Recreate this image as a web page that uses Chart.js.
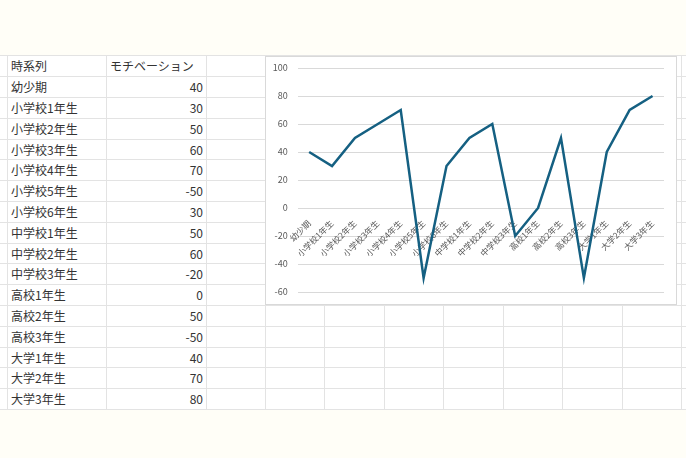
<!DOCTYPE html>
<html><head><meta charset="utf-8">
<script src="https://cdn.jsdelivr.net/npm/chart.js@4"></script>
<style>
html,body{margin:0;padding:0;}
body{width:686px;height:458px;background:#fffef7;position:relative;overflow:hidden;font-family:"Noto Sans CJK JP","Noto Sans",sans-serif;}
#sheet{position:absolute;left:0;top:55px;width:686px;height:355px;background:#fff;}
.vl{position:absolute;width:1px;background:#e3e3e3;}
.hl{position:absolute;height:1px;background:#e3e3e3;}
.cell{position:absolute;font-size:12px;color:#333;line-height:20px;height:20px;white-space:nowrap;}
#chartBox{position:absolute;left:265px;top:56px;width:410px;height:247px;border:1px solid #d9d9d9;background:#fff;}
</style></head>
<body>
<div id="sheet"></div>
<div id="chartBox"><canvas id="c" width="410" height="247"></canvas></div>
<script>
// ---- data ----
const headerLabels = ["時系列", "モチベーション"];
const categories = ["幼少期","小学校1年生","小学校2年生","小学校3年生","小学校4年生","小学校5年生","小学校6年生","中学校1年生","中学校2年生","中学校3年生","高校1年生","高校2年生","高校3年生","大学1年生","大学2年生","大学3年生"];
const motivation = [40,30,50,60,70,-50,30,50,60,-20,0,50,-50,40,70,80];
const yTickMin = -60, yTickMax = 100, yTickStep = 20;

// ---- spreadsheet grid ----
const sheet = document.getElementById('sheet');
const colX = [7.3, 106, 205.7, 264.5, 324.3, 383.7, 443.3, 502.7, 562.3, 621.7, 681];
const rowH = 20.8, rowTop = 0.3, nRows = 17;
for (const x of colX) {
  const d = document.createElement('div'); d.className = 'vl';
  d.style.left = Math.round(x) + 'px'; d.style.top = '0px'; d.style.height = '355px';
  sheet.appendChild(d);
}
for (let i = 0; i <= nRows; i++) {
  const d = document.createElement('div'); d.className = 'hl';
  d.style.left = '0px'; d.style.width = '686px'; d.style.top = Math.round(rowTop + i * rowH) + 'px';
  sheet.appendChild(d);
}
function addCell(text, row, left, right) {
  const d = document.createElement('div'); d.className = 'cell';
  d.textContent = text;
  d.style.top = Math.round(rowTop + row * rowH + 1) + 'px';
  if (right !== undefined) { d.style.right = (686 - right) + 'px'; d.style.textAlign = 'right'; }
  else d.style.left = left + 'px';
  sheet.appendChild(d);
}
addCell(headerLabels[0], 0, 11);
addCell(headerLabels[1], 0, 110);
categories.forEach((c, i) => {
  addCell(c, i + 1, 11);
  addCell(String(motivation[i]), i + 1, undefined, 203);
});

// ---- chart ----
new Chart(document.getElementById('c'), {
  type: 'line',
  data: {
    labels: categories,
    datasets: [{
      data: motivation,
      borderColor: '#156082',
      borderWidth: 2.5,
      pointRadius: 0,
      tension: 0,
      fill: false
    }]
  },
  options: {
    responsive: false,
    animation: false,
    devicePixelRatio: 1,
    plugins: { legend: { display: false }, tooltip: { enabled: false } },
    layout: { padding: { left: 0, top: 11, right: 12, bottom: 12 } },
    scales: {
      x: {
        type: 'category',
        offset: true,
        position: { y: 0 },
        grid: { display: false },
        border: { display: false },
        ticks: {
          autoSkip: false, minRotation: 45, maxRotation: 45,
          color: '#595959', padding: 2,
          font: { family: '"Noto Sans CJK JP"', size: 8.5 }
        }
      },
      y: {
        min: yTickMin, max: yTickMax,
        afterFit: s => { s.width = 31.7; },
        grid: { color: '#d9d9d9', lineWidth: 1, drawTicks: true, tickLength: 8, tickColor: 'rgba(0,0,0,0)' },
        border: { display: false },
        ticks: {
          stepSize: yTickStep, color: '#595959', padding: 2,
          font: { family: '"Noto Sans CJK JP"', size: 9 }
        }
      }
    }
  }
});
</script>
</body></html>
